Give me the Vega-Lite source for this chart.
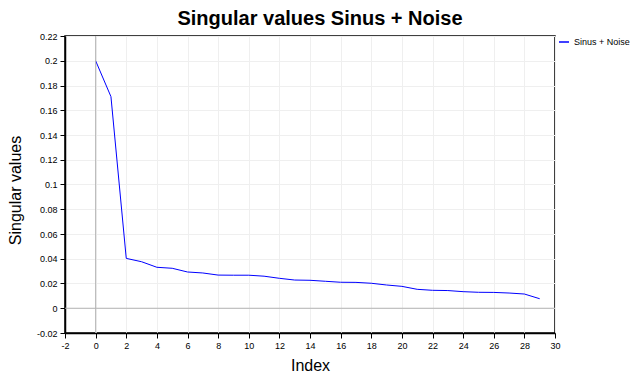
{
  "$schema": "https://vega.github.io/schema/vega-lite/v6.json",
  "width": 490,
  "height": 297,
  "autosize": {"type": "none"},
  "padding": {"left": 65, "top": 36, "right": 84, "bottom": 44},
  "background": "white",
  "title": {
    "text": "Singular values Sinus + Noise",
    "font": "Liberation Sans",
    "fontSize": 20,
    "fontWeight": "bold",
    "color": "black",
    "anchor": "middle",
    "dx": 10,
    "offset": 3
  },
  "config": {
    "view": {"stroke": "black", "strokeWidth": 1.5},
    "font": "Liberation Sans",
    "axis": {
      "titleFontSize": 16,
      "titleFontWeight": "normal",
      "titleColor": "black",
      "labelFontSize": 9,
      "labelColor": "black",
      "labelPadding": 3,
      "labelOverlap": false,
      "labelFlush": false,
      "labelExpr": "replace(format(datum.value, '~g'), '\u2212', '-')",
      "tickColor": "black",
      "tickSize": 5,
      "domainColor": "black",
      "domainWidth": 1.5,
      "gridColor": "#efefef"
    }
  },
  "data": {
    "values": [
      {"Index": 0, "value": 0.2, "series": "Sinus + Noise"},
      {"Index": 1, "value": 0.171, "series": "Sinus + Noise"},
      {"Index": 2, "value": 0.0403, "series": "Sinus + Noise"},
      {"Index": 3, "value": 0.0376, "series": "Sinus + Noise"},
      {"Index": 4, "value": 0.0331, "series": "Sinus + Noise"},
      {"Index": 5, "value": 0.0323, "series": "Sinus + Noise"},
      {"Index": 6, "value": 0.0293, "series": "Sinus + Noise"},
      {"Index": 7, "value": 0.0285, "series": "Sinus + Noise"},
      {"Index": 8, "value": 0.0268, "series": "Sinus + Noise"},
      {"Index": 9, "value": 0.0267, "series": "Sinus + Noise"},
      {"Index": 10, "value": 0.0267, "series": "Sinus + Noise"},
      {"Index": 11, "value": 0.0259, "series": "Sinus + Noise"},
      {"Index": 12, "value": 0.0242, "series": "Sinus + Noise"},
      {"Index": 13, "value": 0.0228, "series": "Sinus + Noise"},
      {"Index": 14, "value": 0.0226, "series": "Sinus + Noise"},
      {"Index": 15, "value": 0.0218, "series": "Sinus + Noise"},
      {"Index": 16, "value": 0.021, "series": "Sinus + Noise"},
      {"Index": 17, "value": 0.0209, "series": "Sinus + Noise"},
      {"Index": 18, "value": 0.0202, "series": "Sinus + Noise"},
      {"Index": 19, "value": 0.0188, "series": "Sinus + Noise"},
      {"Index": 20, "value": 0.0177, "series": "Sinus + Noise"},
      {"Index": 21, "value": 0.0153, "series": "Sinus + Noise"},
      {"Index": 22, "value": 0.0145, "series": "Sinus + Noise"},
      {"Index": 23, "value": 0.0143, "series": "Sinus + Noise"},
      {"Index": 24, "value": 0.0134, "series": "Sinus + Noise"},
      {"Index": 25, "value": 0.0129, "series": "Sinus + Noise"},
      {"Index": 26, "value": 0.0128, "series": "Sinus + Noise"},
      {"Index": 27, "value": 0.0123, "series": "Sinus + Noise"},
      {"Index": 28, "value": 0.0115, "series": "Sinus + Noise"},
      {"Index": 29, "value": 0.0077, "series": "Sinus + Noise"}
    ]
  },
  "layer": [
    {
      "mark": {"type": "line", "strokeWidth": 1},
      "encoding": {
        "x": {
          "field": "Index",
          "type": "quantitative",
          "scale": {"domain": [-2, 30], "nice": false, "zero": false},
          "axis": {
            "tickCount": 16,
            "title": "Index",
            "titleX": 245,
            "titleY": 32,
            "titleAlign": "center",
            "titleBaseline": "middle"
          }
        },
        "y": {
          "field": "value",
          "type": "quantitative",
          "scale": {"domain": [-0.02, 0.22], "nice": false, "zero": false},
          "axis": {
            "tickCount": 12,
            "title": "Singular values",
            "titleX": -50,
            "titleY": 154,
            "titleAngle": 270,
            "titleAlign": "center",
            "titleBaseline": "middle"
          }
        },
        "color": {
          "field": "series",
          "type": "nominal",
          "scale": {"range": ["#0000ff"]},
          "legend": {
            "title": null,
            "orient": "none",
            "legendX": 493,
            "legendY": 0,
            "symbolType": "stroke",
            "symbolSize": 100,
            "symbolStrokeWidth": 1.5,
            "labelFontSize": 9,
            "labelColor": "black",
            "labelOffset": 4
          }
        }
      }
    },
    {
      "data": {"values": [{"z": 0}]},
      "mark": {"type": "rule", "color": "#b4b4b4", "strokeWidth": 1},
      "encoding": {"x": {"field": "z", "type": "quantitative"}}
    },
    {
      "data": {"values": [{"z": 0}]},
      "mark": {"type": "rule", "color": "#b4b4b4", "strokeWidth": 1},
      "encoding": {"y": {"field": "z", "type": "quantitative"}}
    }
  ]
}
